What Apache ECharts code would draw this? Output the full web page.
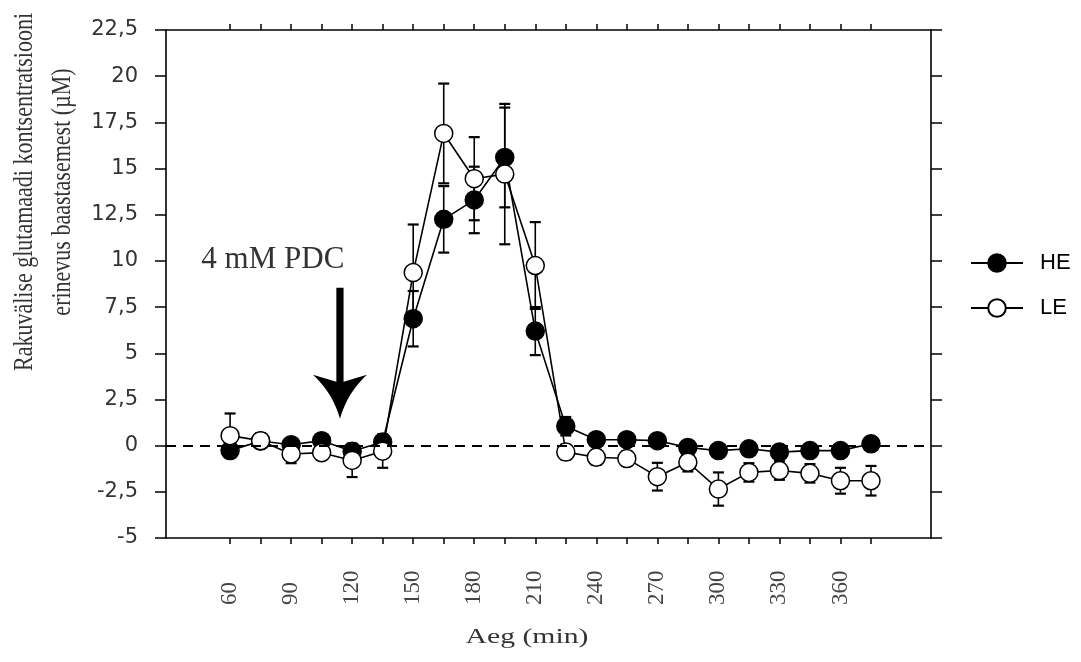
<!DOCTYPE html>
<html><head><meta charset="utf-8">
<script src="https://cdn.jsdelivr.net/npm/echarts@6/dist/echarts.min.js"></script>
<style>html,body{margin:0;padding:0;background:#fff}#c{width:1081px;height:662px}</style>
</head><body><div id="c"></div>
<script>
// ---- data ----
const times   = [60,75,90,105,120,135,150,165,180,195,210,225,240,255,270,285,300,315,330,345,360,375];
const heMean  = [-0.27,0.25,0.05,0.27,-0.3,0.2,6.87,12.25,13.3,15.6,6.2,1.05,0.32,0.32,0.27,-0.1,-0.27,-0.17,-0.35,-0.27,-0.27,0.1];
const heErr   = [0.3,0.3,0.3,0.3,0.4,0.4,1.5,1.8,1.8,2.7,1.3,0.5,0.3,0.3,0.3,0.3,0.3,0.3,0.3,0.3,0.3,0.3];
const leMean  = [0.54,0.27,-0.45,-0.38,-0.8,-0.3,9.37,16.9,14.45,14.7,9.75,-0.35,-0.63,-0.7,-1.68,-0.9,-2.35,-1.45,-1.35,-1.5,-1.9,-1.9];
const leErr   = [1.2,0.4,0.5,0.4,0.9,0.9,2.6,2.7,2.25,3.8,2.35,0.4,0.4,0.4,0.75,0.5,0.9,0.5,0.5,0.5,0.7,0.8];
const xTickValues  = [60,75,90,105,120,135,150,165,180,195,210,225,240,255,270,285,300,315,330,345,360,375];
const xLabelValues = [60,90,120,150,180,210,240,270,300,330,360];
const seriesNames  = ['HE','LE'];
const yTitleLines  = ['Rakuvälise glutamaadi kontsentratsiooni','erinevus baastasemest (µM)'];
const xTitle       = 'Aeg (min)';
const arrowData    = [[114, 8.55, 1.45]];      // x, from, to (data units)
const arrowLabel   = {text:'4 mM PDC', x: 81, y: 10.05};

// ---- helpers ----
const serif = '"Liberation Serif","Times New Roman",serif';
const sans  = '"Liberation Sans",Arial,sans-serif';

function errRender(params, api){
  const x=api.value(0), y=api.value(1), e=api.value(2);
  const hi=api.coord([x,y+e]), lo=api.coord([x,y-e]);
  const w=5.5;
  const st={stroke:'#000', lineWidth:1.6};
  const cap={stroke:'#000', lineWidth:2.2};
  return {type:'group', children:[
    {type:'line', shape:{x1:hi[0],y1:hi[1],x2:lo[0],y2:lo[1]}, style:st},
    {type:'line', shape:{x1:hi[0]-w,y1:hi[1],x2:hi[0]+w,y2:hi[1]}, style:cap},
    {type:'line', shape:{x1:lo[0]-w,y1:lo[1],x2:lo[0]+w,y2:lo[1]}, style:cap}
  ]};
}

function arrowRender(params, api){
  const x=api.value(0);
  const top=api.coord([x, api.value(1)]), tip=api.coord([x, api.value(2)]);
  const cx=tip[0], ty=tip[1], sy=top[1];
  const hh=44, hw=27, sw=3.6;
  const by=ty-hh;
  const right=[], left=[];
  for(let k=0;k<=10;k++){
    const t=k/10;
    const px=(1-t)*(1-t)*hw+2*(1-t)*t*7+t*t*0;
    const py=(1-t)*(1-t)*by+2*(1-t)*t*(by+hh*0.42)+t*t*ty;
    right.push([cx+px,py]); left.push([cx-px,py]);
  }
  const pts=[[cx-sw,sy],[cx+sw,sy],[cx+sw,by+7]].concat(right, left.reverse(), [[cx-sw,by+7]]);
  const lp=api.coord([arrowLabel.x, arrowLabel.y]);
  return {type:'group', children:[
    {type:'polygon', shape:{points:pts}, style:{fill:'#000'}},
    {type:'text', x:lp[0], y:lp[1], style:{text:arrowLabel.text, font:'31px '+serif, fill:'#333', align:'center', verticalAlign:'middle'}}
  ]};
}

const chart = echarts.init(document.getElementById('c'), null, {renderer:'canvas'});
const axisLine = {show:true, onZero:false, lineStyle:{color:'#000', width:1.6}};
const option = {
  animation:false,
  backgroundColor:'#fff',
  grid:{left:166, right:150, top:30, bottom:124, containLabel:false},
  legend:{
    data:seriesNames, orient:'vertical', left:965, top:247, padding:5,
    itemWidth:52, itemHeight:22, itemGap:23,
    textStyle:{fontFamily:sans, fontSize:22, color:'#000', padding:[0,0,0,12]}
  },
  xAxis:[
    {type:'value', position:'bottom', min:28.5, max:404.5,
     axisLine:axisLine, splitLine:{show:false},
     axisTick:{show:true, customValues:xTickValues, length:6, inside:false, lineStyle:{color:'#000', width:1.5}},
     axisLabel:{show:true, customValues:xLabelValues, rotate:90, align:'left', verticalAlign:'middle', margin:67,
       fontFamily:serif, fontSize:23, color:'#444'}},
    {type:'value', position:'top', min:28.5, max:404.5,
     axisLine:axisLine, splitLine:{show:false},
     axisTick:{show:true, customValues:xTickValues, length:6, inside:false, lineStyle:{color:'#000', width:1.5}},
     axisLabel:{show:false}}
  ],
  yAxis:[
    {type:'value', position:'left', min:-5, max:22.5, interval:2.5,
     axisLine:axisLine, splitLine:{show:false},
     axisTick:{show:true, length:11, inside:false, lineStyle:{color:'#000', width:1.5}},
     axisLabel:{margin:28, fontFamily:'"DejaVu Sans",sans-serif', fontSize:21, color:'#333',
       formatter:v=>String(v).replace('.',',')}},
    {type:'value', position:'right', min:-5, max:22.5, interval:2.5,
     axisLine:axisLine, splitLine:{show:false},
     axisTick:{show:true, length:11, inside:false, lineStyle:{color:'#000', width:1.5}},
     axisLabel:{show:false}}
  ],
  graphic:[
    {type:'text', x:44, y:192, rotation:Math.PI/2, scaleY:1.25,
     style:{text:yTitleLines.join('\n'), font:'22px '+serif, fill:'#333', align:'center', verticalAlign:'middle', lineHeight:30.5}},
    {type:'text', x:527, y:637, scaleX:1.35,
     style:{text:xTitle, font:'22px '+serif, fill:'#333', align:'center', verticalAlign:'middle'}}
  ],
  series:[
    {type:'custom', name:'HE err', renderItem:errRender, z:2,
     encode:{x:0,y:1}, data:times.map((t,i)=>[t,heMean[i],heErr[i]]),
     markLine:{silent:true, symbol:'none', label:{show:false},
       lineStyle:{color:'#000', width:2, type:[10,7]}, data:[{yAxis:0}]}},
    {type:'custom', name:'LE err', renderItem:errRender, z:2,
     encode:{x:0,y:1}, data:times.map((t,i)=>[t,leMean[i],leErr[i]])},
    {type:'line', name:'HE', z:3, symbol:'circle', symbolSize:18,
     data:times.map((t,i)=>[t,heMean[i]]),
     lineStyle:{color:'#000', width:1.6},
     itemStyle:{color:'#000', borderColor:'#000', borderWidth:1.5}},
    {type:'line', name:'LE', z:4, symbol:'circle', symbolSize:18,
     data:times.map((t,i)=>[t,leMean[i]]),
     lineStyle:{color:'#000', width:1.6},
     itemStyle:{color:'#fff', borderColor:'#000', borderWidth:1.5}},
    {type:'custom', name:'arrow', renderItem:arrowRender, z:5, silent:true,
     encode:{x:0,y:1}, data:arrowData}
  ]
};
chart.setOption(option);
</script></body></html>
